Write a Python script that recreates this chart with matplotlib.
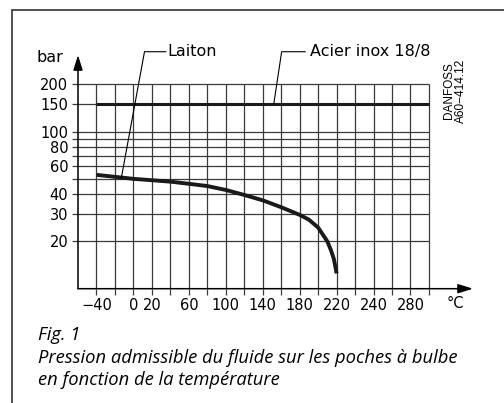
import numpy as np
import matplotlib.pyplot as plt
from matplotlib.patches import Rectangle

# Laiton (brass) curve
temp_laiton = [-40, -20, 0, 20, 40, 60, 80, 100, 120, 140, 160, 180, 190, 200, 210, 214, 217, 219, 220]
p_laiton = [53, 51.5, 50, 49, 48, 46.5, 45, 42.5, 39.5, 36.5, 33, 29.5, 27.5, 24.5, 20, 17.5, 15.5, 13.5, 12.5]
# Acier inox 18/8 (stainless steel)
temp_inox = [-40, 320]
p_inox = [150, 150]

x_grid = list(range(-40, 321, 20))
y_grid = [20, 30, 40, 50, 60, 70, 80, 90, 100, 150, 200]
y_labels = {20: "20", 30: "30", 40: "40", 60: "60", 80: "80", 100: "100", 150: "150", 200: "200"}
x_label_pos = [-40, 0, 20, 60, 100, 140, 180, 220, 260, 300]
x_label_txt = ["\u221240", "0", "20", "60", "100", "140", "180", "220", "240", "280"]

W, H = 504, 403
fig = plt.figure(figsize=(W / 100, H / 100), dpi=100)

# axes area in pixels: x 78..473, y 55..288.7
ax = fig.add_axes([78 / W, 1 - 288.7 / H, (473 - 78) / W, (288.7 - 55) / H])
ax.set_yscale("log")
ax.set_xlim(-60, 367.7)
ax.set_ylim(10, 306.9)
for s in ax.spines.values():
    s.set_visible(False)

gc = "#3a3a3a"
ax.vlines(x_grid, 10, 200, color=gc, lw=0.9)
ax.hlines(y_grid, -60, 320, color=gc, lw=0.9)

ax.set_xticks(x_grid)
ax.set_xticklabels([x_label_txt[x_label_pos.index(v)] if v in x_label_pos else "" for v in x_grid])
ax.set_yticks(y_grid)
ax.set_yticklabels([y_labels.get(v, "") for v in y_grid])
ax.minorticks_off()
ax.tick_params(direction="out", length=4.5, width=0.9, color=gc, labelsize=10.5, pad=2.5)

# axis arrows
arrow = dict(arrowstyle="-|>,head_length=0.9,head_width=0.28", color="black", lw=1.1, shrinkA=0, shrinkB=0)
ax.annotate("", xy=(1, 0), xytext=(0, 0), xycoords="axes fraction", arrowprops=arrow, annotation_clip=False)
ax.annotate("", xy=(0, 1), xytext=(0, 0), xycoords="axes fraction", arrowprops=arrow, annotation_clip=False)

ax.plot(temp_inox, p_inox, color="#1a1a1a", lw=2.2, solid_capstyle="butt")
ax.plot(temp_laiton, p_laiton, color="#1a1a1a", lw=2.8, solid_capstyle="butt", solid_joinstyle="round")

# leader lines
lt = np.interp(-13, temp_laiton, p_laiton)
ax.plot([-13, 12, 35], [lt, 322, 322], color="black", lw=0.8, clip_on=False)
ax.text(37, 322, "Laiton", fontsize=11.5, va="center", ha="left")
ax.plot([152, 160.5, 186], [150, 322, 322], color="black", lw=0.8, clip_on=False)
ax.text(191, 322, "Acier inox 18/8", fontsize=11.5, va="center", ha="left")

fig.text(50 / W, 1 - 57 / H, "bar", fontsize=11.5, ha="center", va="center")
fig.text(455 / W, 1 - 303 / H, "\u00b0C", fontsize=10.5, ha="center", va="center")
fig.text(455 / W, 1 - 123 / H, "DANFOSS\nA60\u2212414.12", rotation=90, fontsize=8.5,
         family="Liberation Sans", ha="center", va="bottom", linespacing=1.0)

cap = dict(family="Open Sans", style="italic", fontsize=13.2, ha="left", va="center")
fig.text(38 / W, 1 - 335 / H, "Fig. 1", **cap)
fig.text(38 / W, 1 - 358 / H, "Pression admissible du fluide sur les poches \u00e0 bulbe", **cap)
fig.text(38 / W, 1 - 380 / H, "en fonction de la temp\u00e9rature", **cap)

fig.patches.append(Rectangle((12 / W, -0.5), 2, 0.5 + 1 - 10 / H, transform=fig.transFigure,
                             fill=False, ec="#333333", lw=1.2))

fig.savefig("out.png", dpi=100)
